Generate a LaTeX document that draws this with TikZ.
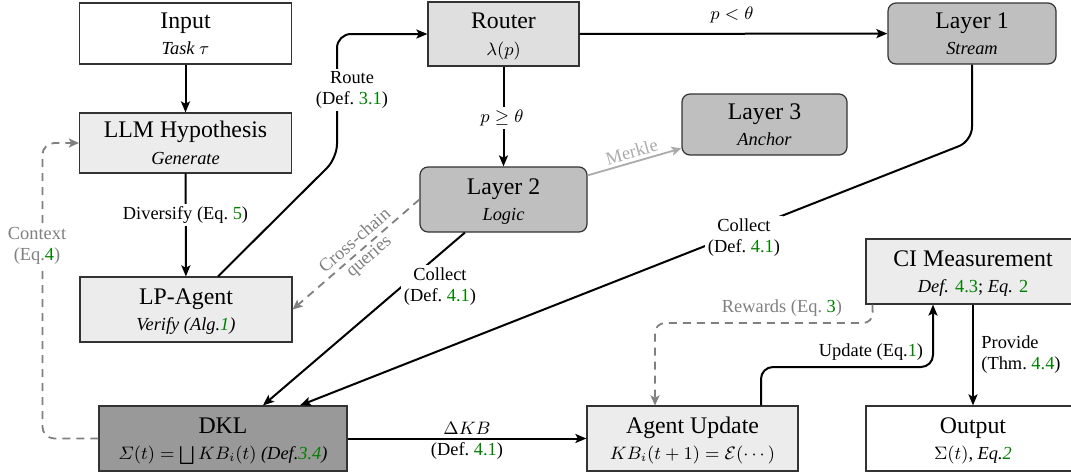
\documentclass[tikz,border=0pt]{standalone}
\usepackage[no-math]{fontspec}
\setmainfont{Liberation Serif}
\usepackage{amsmath}
\usetikzlibrary{arrows.meta,calc}
\definecolor{grn}{RGB}{0,128,0}
\definecolor{fillA}{gray}{0.925}
\definecolor{fillR}{gray}{0.875}
\definecolor{fillL}{gray}{0.75}
\definecolor{fillD}{gray}{0.6}
\definecolor{edgeG}{gray}{0.5}
\definecolor{merk}{gray}{0.67}
\newcommand{\gn}[1]{\textcolor{grn}{#1}}
\newcommand{\ttl}[1]{{\fontsize{11.9}{13.3}\selectfont\rule{0pt}{11pt}#1}}
\newcommand{\sbt}[1]{\rule[-3pt]{0pt}{3pt}#1}
\begin{document}
\begin{tikzpicture}[x=0.5pt, y=-0.5pt,
  box/.style={draw=black!80, line width=0.6pt, inner sep=0pt, align=center, font=\fontsize{9.2}{13.3}\selectfont},
  lyr/.style={box, fill=fillL, rounded corners=4pt},
  arr/.style={line width=1pt, -{Stealth[length=5.5pt,width=4.5pt,inset=1.2pt]}},
  gdash/.style={draw=edgeG, line width=0.9pt, dash pattern=on 4pt off 3pt, -{Stealth[length=5pt,width=4.5pt,inset=1.2pt]}},
  lbl/.style={fill=white, inner sep=1.5pt, align=center, font=\fontsize{9.2}{10.5}\selectfont},
  plain/.style={inner sep=1.5pt, align=center, font=\fontsize{9.2}{10.5}\selectfont},
]
\useasboundingbox (0,0) rectangle (1071,473);

% nodes
\node[box, fill=white, minimum width=106pt, minimum height=30.5pt] (inp) at (185.5,33.5)
  {\ttl{Input}\\\sbt{\textit{Task $\tau$}}};
\node[box, fill=fillA, minimum width=106pt, minimum height=30pt] (llm) at (185.5,143)
  {\ttl{LLM Hypothesis}\\\sbt{\textit{Generate}}};
\node[box, fill=fillA, minimum width=106pt, minimum height=32.5pt] (lp) at (186,309.5)
  {\ttl{LP-Agent}\\\sbt{\textit{Verify (Alg.\gn{1})}}};
\node[box, fill=fillD, minimum width=124pt, minimum height=32.5pt] (dkl) at (223,438.5)
  {\ttl{DKL}\\\sbt{$\varSigma(t)=\bigsqcup KB_i(t)$ \textit{(Def.\gn{3.4})}}};
\node[box, fill=fillR, minimum width=75.5pt, minimum height=32pt] (router) at (503.5,34)
  {\ttl{Router}\\\sbt{$\lambda(p)$}};
\node[lyr, minimum width=84pt, minimum height=30.5pt] (l1) at (972,33.5)
  {\ttl{Layer 1}\\\sbt{\textit{Stream}}};
\node[lyr, minimum width=82.5pt, minimum height=30.5pt] (l3) at (764.5,124.5)
  {\ttl{Layer 3}\\\sbt{\textit{Anchor}}};
\node[lyr, minimum width=83.5pt, minimum height=32.5pt] (l2) at (503.5,199.5)
  {\ttl{Layer 2}\\\sbt{\textit{Logic}}};
\node[box, fill=fillA, minimum width=107pt, minimum height=32.5pt] (ci) at (973,271.5)
  {\ttl{CI Measurement}\\\sbt{\textit{Def.} \gn{4.3}; \textit{Eq.} \gn{2}}};
\node[box, fill=fillA, minimum width=105.5pt, minimum height=32.5pt] (au) at (692.5,438.5)
  {\ttl{Agent Update}\\\sbt{$KB_i(t+1)=\mathcal{E}(\cdots)$}};
\node[box, fill=white, minimum width=107pt, minimum height=32.5pt] (out) at (973,438.5)
  {\ttl{Output}\\\sbt{$\Sigma(t)$, \textit{Eq.\gn{2}}}};

% helper coordinates
\coordinate (rs) at ($(lp.north)+(32,0)$);
\coordinate (rA) at (337,158);
\coordinate (c1) at (972,141);
\coordinate (us) at ($(au.north)+(68.5,0)$);
\coordinate (u2) at (933,367);
\coordinate (ws) at ($(ci.south west)+(7,0)$);
\coordinate (w1) at (873,323);
\coordinate (we) at ($(au.north)+(-37.5,0)$);

% connectors
\draw[arr] (inp) -- (llm);
\draw[arr] (llm) -- (lp);
\draw[arr, rounded corners=7pt] (rs) -- (rA) |- (router.west);
\draw[arr] (router) -- (l1);
\draw[arr] (router) -- (l2);
\draw[draw=merk, line width=0.9pt, -{Stealth[length=5pt,width=4.5pt,inset=1.2pt]}] (l2) -- node[midway, above, sloped, plain, text=merk] {Merkle} (l3);
\draw[gdash] (l2.west) -- node[pos=0.45, sloped, plain, text=edgeG] {Cross-chain\\queries} (lp.east);
\draw[arr] (l2) -- ($(dkl.north)+(40,0)$);
\draw[arr, rounded corners=7pt] (l1.south) -- (c1) -- ($(dkl.north)+(77,0)$);
\draw[arr] (dkl) -- node[above, plain] {$\Delta KB$} node[below, plain] {(Def.~\gn{4.1})} (au);
\draw[arr, rounded corners=6pt] (us) |- (u2) -- (u2 |- ci.south);
\draw[gdash, rounded corners=5pt] (ws) -- (w1) -| (we);
\draw[arr] (ci) -- (out);
\draw[gdash, rounded corners=6pt] (dkl.west) -- ++(-56,0) |- (llm.west);

% labels
\node[lbl] (tdiv) at (185.5,215) {Diversify (Eq.~\gn{5})};
\node[lbl] (troute) at (352,90) {Route\\(Def.~\gn{3.1})};
\node[plain] (tlt) at (732,15) {$p<\theta$};
\node[lbl] (tge) at (502,118) {$p\geq\theta$};
\node[lbl] (tc2) at (440,287) {Collect\\(Def.~\gn{4.1})};
\node[lbl] (tc1) at (744,238) {Collect\\(Def.~\gn{4.1})};
\node[plain] (tupd) at (871,352) {Update (Eq.\gn{1})};
\node[plain, text=edgeG] (trew) at (782,308) {Rewards (Eq.~\gn{3})};
\node[plain, anchor=west, align=left] (tprov) at (978,355) {Provide\\(Thm.~\gn{4.4})};
\node[lbl, text=edgeG] (tctx) at (37,246) {Context\\(Eq.\gn{4})};
\end{tikzpicture}
\end{document}
